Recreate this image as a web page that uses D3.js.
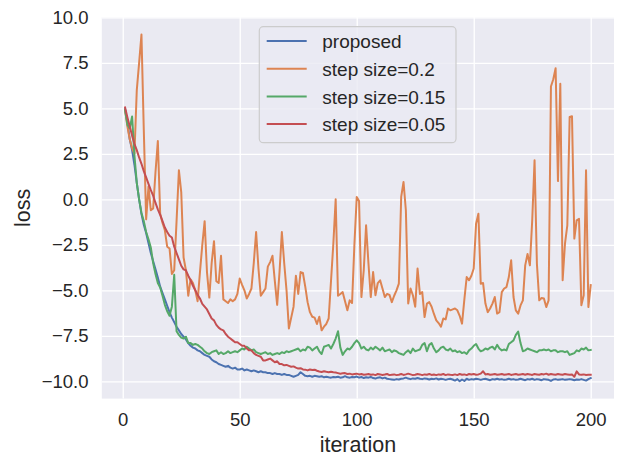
<!DOCTYPE html>
<html>
<head>
<meta charset="utf-8">
<script src="https://cdn.jsdelivr.net/npm/d3@7"></script>
<style>
  html, body { margin: 0; padding: 0; background: #ffffff; }
  svg { display: block; }
  text { font-family: Arial, "Liberation Sans", sans-serif; }
</style>
</head>
<body>
<svg id="chart" width="617" height="456"></svg>
<script>
// ---------------- data ----------------
const iterations = d3.range(1, 201);

const proposed = [
4.95,4.2,3.3,2.7,1.9,0.9,0.0,-0.8,-1.4,-1.85,
-2.4,-2.95,-3.4,-3.85,-4.3,-4.8,-5.15,-5.5,-5.85,-6.2,
-6.5,-6.75,-7.0,-7.2,-7.4,-7.55,-7.7,-7.9,-8.05,-8.15,
-8.2,-8.3,-8.35,-8.45,-8.55,-8.6,-8.65,-8.8,-8.9,-8.95,
-9.05,-9.1,-9.15,-9.2,-9.15,-9.25,-9.3,-9.25,-9.35,-9.35,
-9.3,-9.4,-9.35,-9.4,-9.45,-9.4,-9.45,-9.5,-9.45,-9.5,
-9.5,-9.55,-9.55,-9.6,-9.55,-9.6,-9.6,-9.65,-9.6,-9.65,
-9.65,-9.7,-9.75,-9.7,-9.65,-9.5,-9.6,-9.7,-9.72,-9.7,
-9.75,-9.7,-9.72,-9.75,-9.72,-9.78,-9.75,-9.78,-9.8,-9.76,
-9.78,-9.75,-9.8,-9.78,-9.72,-9.78,-9.8,-9.76,-9.78,-9.74,
-9.8,-9.76,-9.82,-9.78,-9.8,-9.76,-9.82,-9.85,-9.8,-9.78,
-9.84,-9.8,-9.86,-9.88,-9.9,-9.92,-9.88,-9.9,-9.86,-9.84,
-9.8,-9.85,-9.88,-9.84,-9.86,-9.82,-9.86,-9.88,-9.84,-9.86,
-9.9,-9.86,-9.88,-9.84,-9.9,-9.86,-9.88,-9.92,-9.88,-9.86,
-9.9,-9.96,-9.88,-10.0,-9.9,-9.98,-9.86,-9.92,-9.88,-9.9,
-9.86,-9.88,-9.92,-9.88,-9.86,-9.9,-9.94,-9.88,-9.9,-9.86,
-9.9,-9.88,-9.92,-9.9,-9.86,-9.9,-9.88,-9.92,-9.9,-9.86,
-9.9,-9.94,-9.88,-9.9,-9.86,-9.92,-9.88,-9.9,-9.94,-9.88,
-9.9,-9.92,-9.98,-9.9,-9.88,-9.92,-9.9,-9.88,-9.92,-9.9,
-9.88,-9.9,-9.94,-9.9,-9.92,-9.88,-9.92,-9.96,-9.88,-9.82
];

const step020 = [
4.9,4.0,3.3,2.8,2.5,6.0,7.5,9.05,3.8,-1.1,
0.7,-0.6,-0.5,1.5,3.2,-0.8,-1.3,-1.7,-2.6,-2.7,
-4.1,-3.9,-1.2,1.6,0.4,-3.2,-3.9,-5.3,-4.4,-4.6,
-5.0,-5.6,-4.0,-2.5,-1.2,-4.0,-5.4,-3.5,-2.3,-4.5,
-4.6,-3.1,-5.5,-5.6,-5.7,-5.5,-5.6,-5.5,-5.2,-4.35,
-4.7,-5.0,-5.45,-5.2,-4.9,-3.5,-1.8,-3.8,-5.3,-5.1,
-4.9,-3.7,-3.45,-3.1,-4.5,-5.8,-4.0,-1.8,-3.5,-5.0,
-7.1,-6.5,-5.9,-4.2,-5.2,-4.0,-4.05,-4.8,-5.65,-6.2,
-6.45,-6.5,-6.85,-6.45,-7.2,-7.0,-6.85,-6.55,-4.5,-2.45,
0.0,-5.3,-5.2,-5.1,-5.6,-6.1,-5.55,-5.7,-2.5,0.12,
-0.1,-5.37,-3.9,-1.43,-3.5,-5.37,-4.0,-5.27,-4.6,-4.45,
-4.9,-5.37,-5.2,-5.25,-5.65,-5.3,-5.0,-4.63,0.13,0.95,
-0.6,-5.73,-4.9,-5.27,-5.9,-3.8,-5.2,-5.1,-6.47,-5.73,
-5.65,-5.9,-6.3,-6.65,-6.8,-7.0,-6.55,-6.6,-6.0,-6.1,
-6.05,-6.0,-6.1,-6.4,-6.83,-5.5,-4.27,-4.45,-4.2,-3.8,
-1.34,-0.79,-4.64,-4.6,-5.73,-6.2,-6.0,-5.73,-5.37,-6.28,
-6.2,-5.1,-4.9,-4.82,-4.27,-3.35,-5.37,-6.1,-6.28,-5.83,
-5.55,-3.63,-3.0,-3.63,-1.15,2.14,-3.54,-5.55,-5.42,-5.45,
-5.92,-5.55,6.2,6.6,7.2,1.0,6.35,-4.45,-2.44,-1.43,
4.52,4.56,-2.16,-1.15,-1.07,-5.82,-5.27,1.6,-5.92,-4.72
];

const step015 = [
4.9,4.1,3.9,4.55,2.4,0.9,0.0,-0.75,-1.2,-1.8,
-2.2,-2.65,-3.5,-4.1,-4.6,-4.85,-5.3,-5.8,-6.15,-6.4,
-5.9,-4.15,-7.25,-7.45,-7.6,-7.65,-7.55,-7.9,-7.9,-8.0,
-7.95,-8.0,-8.1,-8.2,-8.35,-8.45,-8.5,-8.4,-8.35,-8.3,
-8.5,-8.4,-8.5,-8.45,-8.35,-8.45,-8.4,-8.35,-8.4,-8.3,
-8.2,-8.25,-8.1,-8.2,-8.3,-8.25,-8.4,-8.45,-8.5,-8.45,
-8.4,-8.5,-8.45,-8.55,-8.5,-8.45,-8.5,-8.4,-8.45,-8.35,
-8.4,-8.35,-8.3,-8.25,-8.2,-8.35,-8.25,-8.3,-8.1,-8.15,
-8.3,-8.2,-8.1,-8.35,-8.5,-8.1,-8.05,-8.0,-8.2,-7.95,
-7.65,-7.25,-8.15,-8.55,-8.35,-8.2,-8.25,-8.1,-7.9,-7.75,
-7.9,-8.2,-8.1,-8.25,-8.3,-8.15,-8.25,-8.1,-8.2,-8.3,
-8.15,-8.35,-8.3,-8.25,-8.4,-8.3,-8.35,-8.45,-8.5,-8.55,
-8.4,-8.3,-8.45,-8.2,-8.35,-8.3,-8.25,-8.0,-7.9,-8.35,
-8.0,-7.9,-8.2,-8.4,-8.3,-8.15,-8.1,-8.25,-8.3,-8.2,
-8.35,-8.3,-8.4,-8.35,-8.45,-8.4,-8.5,-8.3,-8.2,-8.05,
-7.95,-8.2,-8.35,-8.3,-8.2,-8.25,-8.15,-8.1,-8.25,-8.0,
-8.2,-8.3,-8.25,-8.3,-7.95,-7.85,-7.75,-7.45,-7.27,-7.9,
-8.35,-8.3,-8.2,-8.25,-8.3,-8.35,-8.4,-8.3,-8.3,-8.25,
-8.3,-8.25,-8.35,-8.3,-8.3,-8.4,-8.35,-8.35,-8.4,-8.35,
-8.55,-8.5,-8.45,-8.3,-8.35,-8.2,-8.25,-8.15,-8.3,-8.28
];

const step005 = [
5.05,4.5,4.0,3.5,3.05,2.7,2.3,1.95,1.55,1.2,
0.85,0.5,0.2,-0.2,-0.55,-0.85,-1.2,-1.55,-1.8,-2.0,
-2.1,-2.6,-2.95,-3.3,-3.65,-3.85,-3.9,-4.2,-4.45,-4.75,
-5.0,-5.25,-5.45,-5.75,-5.9,-6.05,-6.3,-6.55,-6.65,-6.9,
-7.05,-7.15,-7.2,-7.4,-7.55,-7.65,-7.75,-7.85,-7.85,-7.95,
-8.05,-8.05,-8.2,-8.3,-8.3,-8.45,-8.55,-8.6,-8.65,-8.85,
-8.85,-8.8,-8.75,-8.85,-8.95,-8.9,-9.05,-9.05,-9.12,-9.1,
-9.15,-9.2,-9.18,-9.25,-9.3,-9.28,-9.35,-9.36,-9.4,-9.35,
-9.38,-9.36,-9.42,-9.46,-9.49,-9.45,-9.48,-9.5,-9.47,-9.5,
-9.52,-9.55,-9.58,-9.56,-9.55,-9.6,-9.58,-9.62,-9.6,-9.58,
-9.62,-9.6,-9.64,-9.62,-9.6,-9.64,-9.62,-9.66,-9.6,-9.62,
-9.65,-9.63,-9.6,-9.66,-9.64,-9.62,-9.66,-9.64,-9.6,-9.65,
-9.62,-9.58,-9.62,-9.66,-9.64,-9.6,-9.62,-9.66,-9.62,-9.64,
-9.6,-9.65,-9.63,-9.66,-9.62,-9.64,-9.6,-9.66,-9.62,-9.64,
-9.65,-9.62,-9.66,-9.6,-9.64,-9.62,-9.66,-9.6,-9.63,-9.6,
-9.64,-9.62,-9.58,-9.45,-9.62,-9.6,-9.64,-9.62,-9.6,-9.64,
-9.62,-9.6,-9.64,-9.62,-9.6,-9.65,-9.62,-9.6,-9.64,-9.62,
-9.6,-9.64,-9.6,-9.62,-9.65,-9.6,-9.62,-9.64,-9.6,-9.62,
-9.58,-9.64,-9.6,-9.62,-9.64,-9.6,-9.62,-9.64,-9.6,-9.62,
-9.64,-9.62,-9.75,-9.45,-9.62,-9.64,-9.62,-9.65,-9.64,-9.64
];

const seriesNames = ["proposed", "step size=0.2", "step size=0.15", "step size=0.05"];
const seriesColors = ["#4C72B0", "#DD8452", "#55A868", "#C44E52"];
const seriesValues = [proposed, step020, step015, step005];

const xTicks = [0, 50, 100, 150, 200];
const yTicks = [10.0, 7.5, 5.0, 2.5, 0.0, -2.5, -5.0, -7.5, -10.0];
const xLabel = "iteration";
const yLabel = "loss";

// ---------------- layout ----------------
const plot = { left: 101.8, right: 614, top: 17.3, bottom: 398.6 };
const tickFont = 18.5, labelFont = 21.5, legendFont = 19;
const textColor = "#262626";

const svg = d3.select("#chart");

const x = d3.scaleLinear().domain([-8.95, 209.95]).range([plot.left, plot.right]);
const y = d3.scaleLinear().domain([-10.95, 10.0]).range([plot.bottom, plot.top]);

// background
svg.append("rect")
  .attr("x", plot.left).attr("y", plot.top)
  .attr("width", plot.right - plot.left).attr("height", plot.bottom - plot.top)
  .attr("fill", "#EAEAF2");

const fmtY = v => d3.format(".1f")(v).replace("-", "\u2212");

// x axis + vertical grid
const gx = svg.append("g")
  .attr("transform", `translate(0,${plot.bottom})`)
  .call(d3.axisBottom(x).tickValues(xTicks).tickFormat(d3.format("d"))
        .tickSize(-(plot.bottom - plot.top)).tickPadding(14.7));
gx.select(".domain").remove();
gx.selectAll(".tick line").attr("stroke", "#ffffff").attr("stroke-width", 1.3);
gx.selectAll(".tick text").attr("fill", textColor).style("font-size", tickFont + "px")
  .style("font-family", "Arial, 'Liberation Sans', sans-serif");

// y axis + horizontal grid
const gy = svg.append("g")
  .attr("transform", `translate(${plot.left},0)`)
  .call(d3.axisLeft(y).tickValues(yTicks).tickFormat(fmtY)
        .tickSize(-(plot.right - plot.left)).tickPadding(13.3));
gy.select(".domain").remove();
gy.selectAll(".tick line").attr("stroke", "#ffffff").attr("stroke-width", 1.3);
gy.selectAll(".tick text").attr("fill", textColor).style("font-size", tickFont + "px")
  .style("font-family", "Arial, 'Liberation Sans', sans-serif");

// lines
const clipId = "plotclip";
svg.append("clipPath").attr("id", clipId).append("rect")
  .attr("x", plot.left).attr("y", plot.top)
  .attr("width", plot.right - plot.left).attr("height", plot.bottom - plot.top);

const lineGen = d3.line()
  .x((d, i) => x(iterations[i]))
  .y(d => y(d));

const linesG = svg.append("g").attr("clip-path", `url(#${clipId})`);
seriesValues.forEach((vals, k) => {
  linesG.append("path")
    .datum(vals)
    .attr("fill", "none")
    .attr("stroke", seriesColors[k])
    .attr("stroke-width", 2)
    .attr("stroke-linejoin", "round")
    .attr("stroke-linecap", "square")
    .attr("d", lineGen);
});

// axis labels
svg.append("text")
  .attr("x", (plot.left + plot.right) / 2).attr("y", 451.5)
  .attr("text-anchor", "middle")
  .attr("fill", textColor).style("font-size", labelFont + "px")
  .text(xLabel);

svg.append("text")
  .attr("transform", `translate(30,${(plot.top + plot.bottom) / 2}) rotate(-90)`)
  .attr("text-anchor", "middle")
  .attr("fill", textColor).style("font-size", labelFont + "px")
  .text(yLabel);

// legend
const leg = { x: 259.3, y: 26.7, w: 196.7, h: 116, rowY0: 41, rowStep: 27.7 };
const lg = svg.append("g");
lg.append("rect")
  .attr("x", leg.x).attr("y", leg.y).attr("width", leg.w).attr("height", leg.h)
  .attr("rx", 4).attr("ry", 4)
  .attr("fill", "#EAEAF2").attr("fill-opacity", 0.8)
  .attr("stroke", "#cccccc").attr("stroke-width", 1.2);

seriesNames.forEach((name, k) => {
  const ry = leg.rowY0 + k * leg.rowStep;
  lg.append("line")
    .attr("x1", 266.7).attr("x2", 306.7).attr("y1", ry).attr("y2", ry)
    .attr("stroke", seriesColors[k]).attr("stroke-width", 2);
  lg.append("text")
    .attr("x", 322.3).attr("y", ry + 7.3)
    .attr("fill", textColor).style("font-size", legendFont + "px")
    .text(name);
});
</script>
</body>
</html>
